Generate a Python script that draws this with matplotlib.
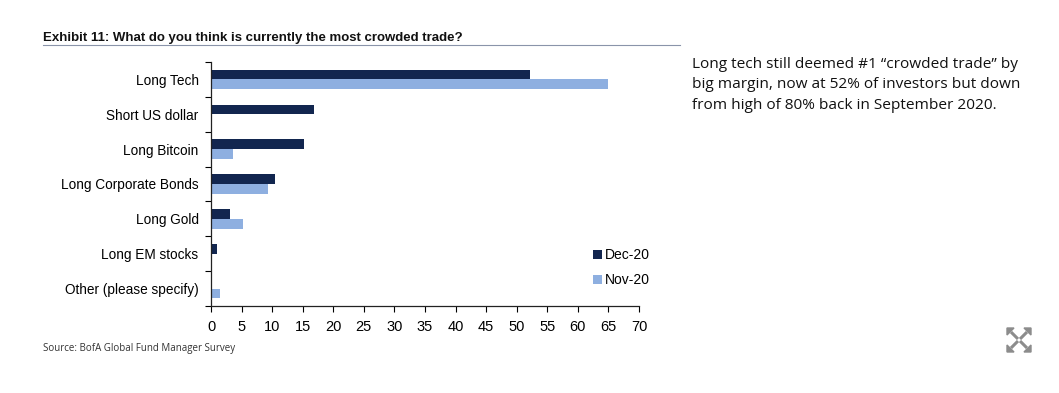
import matplotlib
matplotlib.use("Agg")
import matplotlib.pyplot as plt
from matplotlib.patches import Polygon
import numpy as np

categories = ["Long Tech", "Short US dollar", "Long Bitcoin", "Long Corporate Bonds",
              "Long Gold", "Long EM stocks", "Other (please specify)"]
dec20 = [52.1, 16.8, 15.2, 10.5, 3.1, 1.0, 0.0]
nov20 = [64.9, 0.0, 3.6, 9.4, 5.2, 0.0, 1.5]
xticks = list(range(0, 71, 5))

title = "Exhibit 11: What do you think is currently the most crowded trade?"
source = "Source: BofA Global Fund Manager Survey"
note = ("Long tech still deemed #1 \u201ccrowded trade\u201d by\n"
        "big margin, now at 52% of investors but down\n"
        "from high of 80% back in September 2020.")

dark = "#12264f"
light = "#8eafe0"

W, H = 1059, 393
fig = plt.figure(figsize=(W / 100, H / 100), dpi=100)
fig.patch.set_facecolor("white")

ax = fig.add_axes([211 / W, 1 - 306 / H, 428 / W, 244 / H])
n = len(categories)
y = np.arange(n)
bh = 0.28
ax.barh(y - bh / 2, dec20, height=bh, color=dark, label="Dec-20")
ax.barh(y + bh / 2, nov20, height=bh, color=light, label="Nov-20")
ax.set_ylim(n - 0.5, -0.5)
ax.set_xlim(0, 70)
ax.set_xticks(xticks)
ax.set_xticklabels([str(t) for t in xticks], fontsize=10.5, family="Liberation Sans")
ax.set_yticks(np.arange(n + 1) - 0.5, minor=False)
ax.set_yticklabels([""] * (n + 1))
ax.set_yticks(y, minor=True)
ax.set_yticklabels(categories, minor=True, fontsize=9.8, family="Liberation Sans")
ax.tick_params(axis="y", which="minor", length=0, pad=9)
ax.tick_params(axis="y", which="major", length=4, direction="out", width=0.8)
ax.tick_params(axis="x", length=4, width=0.8, pad=6)
for s in ["top", "right"]:
    ax.spines[s].set_visible(False)
for s in ["left", "bottom"]:
    ax.spines[s].set_color("#222222")
    ax.spines[s].set_linewidth(0.9)

leg = ax.legend(loc="lower right", bbox_to_anchor=(1.055, 0.026), frameon=False,
                prop={"family": "Liberation Sans", "size": 10},
                handlelength=0.65, handleheight=0.65, handletextpad=0.25,
                labelspacing=0.8)

fig.text(43 / W, 1 - 38 / H, title, fontsize=9.5, fontweight="bold",
         family="Liberation Sans", va="center", ha="left", color="#111111")
fig.add_artist(plt.Line2D([43 / W, 680 / W], [1 - 45 / H, 1 - 45 / H],
                          color="#8a94aa", lw=0.8))
fig.text(43 / W, 1 - 348 / H, source, fontsize=7, family="Open Sans",
         va="center", ha="left", color="#333333")
fig.text(692 / W, 1 - 57 / H, note, fontsize=11.1, family="Open Sans",
         va="top", ha="left", color="#111111", linespacing=1.48)

# expand icon
cx, cy = 1019, 340
gray = "#8c8c8c"
for dx, dy in [(1, 1), (1, -1), (-1, 1), (-1, -1)]:
    fig.add_artist(plt.Line2D([(cx + dx * 1) / W, (cx + dx * 8) / W],
                              [1 - (cy + dy * 1) / H, 1 - (cy + dy * 8) / H],
                              color=gray, lw=2.2, solid_capstyle="butt"))
    tip = (cx + dx * 12, cy + dy * 12)
    a = (cx + dx * 12, cy + dy * 5)
    b = (cx + dx * 5, cy + dy * 12)
    pts = [(p[0] / W, 1 - p[1] / H) for p in (tip, a, b)]
    fig.add_artist(Polygon(pts, closed=True, color=gray, transform=fig.transFigure))

fig.savefig("out.png", dpi=100, facecolor="white")
